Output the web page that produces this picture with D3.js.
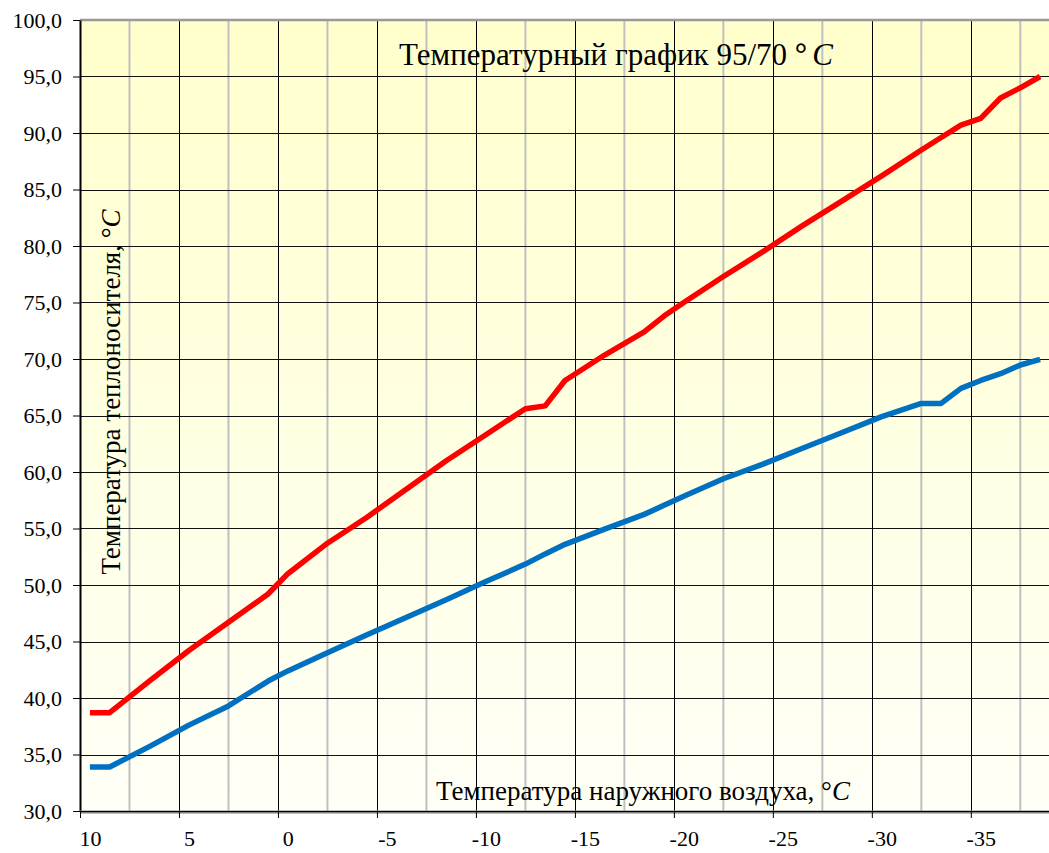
<!DOCTYPE html>
<html><head><meta charset="utf-8">
<script src="https://cdn.jsdelivr.net/npm/d3@7"></script>
<style>html,body{margin:0;padding:0;background:#fff;}svg{display:block;}</style>
</head><body>
<svg id="chart" width="1049" height="853"></svg>
<script>
// Outdoor air temperature categories (°C) where points were read
const outdoorTemp = [10, 9, 7, 5, 3, 1, 0, -2, -4, -6, -8, -10, -12, -13, -14, -16, -18, -19, -20, -22, -24, -26, -28, -30, -32, -33, -34, -35, -36, -37, -38];
// Supply (red) temperature
const supplyTemp = [38.7, 38.7, 41.5, 44.2, 46.7, 49.2, 51.0, 53.7, 56.0, 58.5, 61.0, 63.3, 65.6, 65.85, 68.1, 70.35, 72.4, 73.8, 75.0, 77.3, 79.5, 81.8, 84.0, 86.2, 88.5, 89.6, 90.7, 91.3, 93.1, 94.0, 95.0];
// Return (blue) temperature
const returnTemp = [33.9, 33.9, 35.7, 37.6, 39.3, 41.5, 42.4, 44.0, 45.6, 47.15, 48.7, 50.3, 51.85, 52.75, 53.6, 54.95, 56.25, 57.05, 57.85, 59.4, 60.7, 62.1, 63.5, 64.9, 66.07, 66.07, 67.4, 68.1, 68.7, 69.47, 69.97];
const xTickLabels = [10, 5, 0, -5, -10, -15, -20, -25, -30, -35];
const yTickValues = [30, 35, 40, 45, 50, 55, 60, 65, 70, 75, 80, 85, 90, 95, 100];
const titleText = "Температурный график 95/70 ";
const xAxisTitle = "Температура наружного воздуха, ";
const yAxisTitle = "Температура теплоносителя, ";

const svg = d3.select("#chart");
const pLeft = 80, pRight = 1050, pTop = 20, pBottom = 811;
const serif = "'Liberation Serif', 'Times New Roman', serif";

const x = d3.scaleLinear().domain([10.5, -38.5]).range([pLeft, pRight]);
const y = d3.scaleLinear().domain([30, 100]).range([pBottom, pTop]);

// background gradient
const defs = svg.append("defs");
const grad = defs.append("linearGradient").attr("id", "bg").attr("x1", 0).attr("y1", 0).attr("x2", 0).attr("y2", 1);
grad.append("stop").attr("offset", "0%").attr("stop-color", "#FFFFCC");
grad.append("stop").attr("offset", "100%").attr("stop-color", "#FFFFF7");
svg.append("rect").attr("x", pLeft).attr("y", pTop).attr("width", pRight - pLeft).attr("height", pBottom - pTop).attr("fill", "url(#bg)");

// minor vertical gridlines (gray)
svg.append("g").selectAll("line").data(xTickLabels).join("line")
  .attr("x1", d => x(d - 2)).attr("x2", d => x(d - 2))
  .attr("y1", pTop).attr("y2", pBottom)
  .attr("stroke", "#C0C0C0").attr("stroke-width", 2);

// major vertical gridlines
svg.append("g").selectAll("line").data(xTickLabels.slice(1)).join("line")
  .attr("x1", d => Math.round(x(d + 0.5)) + 0.5).attr("x2", d => Math.round(x(d + 0.5)) + 0.5)
  .attr("y1", pTop).attr("y2", pBottom)
  .attr("stroke", "#000").attr("stroke-width", 1);

// horizontal gridlines
svg.append("g").selectAll("line").data(yTickValues.filter(v => v > 30 && v < 100)).join("line")
  .attr("x1", pLeft).attr("x2", pRight)
  .attr("y1", d => Math.round(y(d)) + 0.5).attr("y2", d => Math.round(y(d)) + 0.5)
  .attr("stroke", "#111").attr("stroke-width", 1);

// top border
svg.append("line").attr("x1", pLeft).attr("x2", pRight).attr("y1", pTop).attr("y2", pTop)
  .attr("stroke", "#999").attr("stroke-width", 2.5);

// titles
const title = svg.append("text").attr("x", 616).attr("y", 65).attr("text-anchor", "middle")
  .attr("font-family", serif).attr("font-size", 31).attr("fill", "#000");
title.append("tspan").text(titleText);
title.append("tspan").text("°").attr("font-weight", "bold");
title.append("tspan").text("C").attr("font-style", "italic").attr("dx", 5);

const xt = svg.append("text").attr("x", 643).attr("y", 800).attr("text-anchor", "middle")
  .attr("font-family", serif).attr("font-size", 27).attr("fill", "#000");
xt.append("tspan").text(xAxisTitle);
xt.append("tspan").text("°");
xt.append("tspan").text("C").attr("font-style", "italic");

const yt = svg.append("text").attr("transform", "translate(120,392) rotate(-90)").attr("text-anchor", "middle")
  .attr("font-family", serif).attr("font-size", 27).attr("fill", "#000");
yt.append("tspan").text(yAxisTitle);
yt.append("tspan").text("°");
yt.append("tspan").text("C").attr("font-style", "italic");

// series
const supply = outdoorTemp.map((t, i) => ({t, v: supplyTemp[i]}));
const ret = outdoorTemp.map((t, i) => ({t, v: returnTemp[i]}));
const line = d3.line().x(d => x(d.t)).y(d => y(d.v));
svg.append("path").datum(ret).attr("d", line).attr("fill", "none")
  .attr("stroke", "#0070C0").attr("stroke-width", 5.5).attr("stroke-linejoin", "round");
svg.append("path").datum(supply).attr("d", line).attr("fill", "none")
  .attr("stroke", "#FF0000").attr("stroke-width", 5.5).attr("stroke-linejoin", "round");

// y axis
const yAxis = d3.axisLeft(y).tickValues(yTickValues)
  .tickFormat(d => d3.format(".1f")(d).replace(".", ",")).tickSize(7).tickPadding(11).tickSizeOuter(0);
const gy = svg.append("g").attr("transform", `translate(${pLeft},0)`).call(yAxis);
gy.select(".domain").attr("stroke", "#000").attr("stroke-width", 2);
gy.selectAll(".tick line").attr("stroke", "#000");
gy.selectAll("text").attr("font-family", serif).attr("font-size", 22).attr("fill", "#000");

// x axis: ticks at category boundaries, labels at category centers
svg.append("line").attr("x1", pLeft).attr("x2", pRight).attr("y1", pBottom + 1).attr("y2", pBottom + 1)
  .attr("stroke", "#808080").attr("stroke-width", 3);
const xTicks = d3.axisBottom(x).tickValues(xTickLabels.map(v => v + 0.5)).tickFormat("").tickSize(7).tickSizeOuter(0);
const gx = svg.append("g").attr("transform", `translate(0,${pBottom})`).call(xTicks);
gx.select(".domain").attr("stroke", "#000").attr("stroke-width", 1);
gx.selectAll(".tick line").attr("stroke", "#000");
const xLabels = d3.axisBottom(x).tickValues(xTickLabels).tickFormat(d => String(d)).tickSize(0).tickPadding(19);
const gl = svg.append("g").attr("transform", `translate(0,${pBottom})`).call(xLabels);
gl.select(".domain").remove();
gl.selectAll("text").attr("font-family", serif).attr("font-size", 22).attr("fill", "#000");
</script>
</body></html>
